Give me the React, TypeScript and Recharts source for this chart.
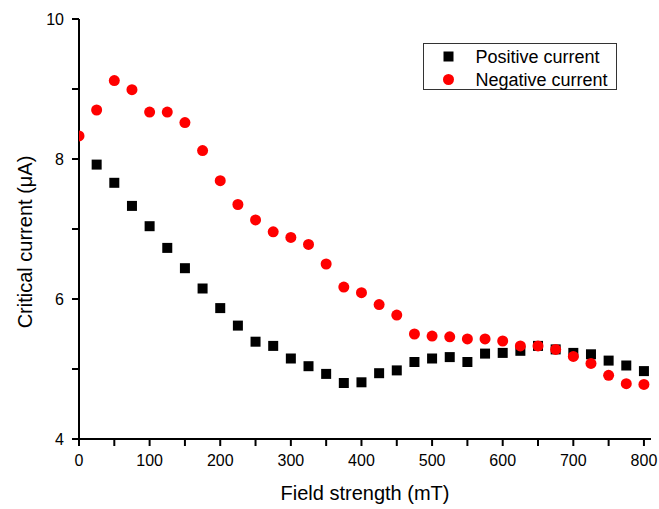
import React from 'react';
import { ScatterChart, Scatter, XAxis, YAxis, Label, Customized } from 'recharts';

const fieldPositive = [25, 50, 75, 100, 125, 150, 175, 200, 225, 250, 275, 300, 325, 350, 375, 400, 425, 450, 475, 500, 525, 550, 575, 600, 625, 650, 675, 700, 725, 750, 775, 800];
const positiveCurrent = [7.92, 7.66, 7.33, 7.04, 6.73, 6.44, 6.15, 5.87, 5.62, 5.39, 5.33, 5.15, 5.04, 4.93, 4.8, 4.81, 4.94, 4.98, 5.1, 5.15, 5.17, 5.1, 5.22, 5.23, 5.26, 5.33, 5.28, 5.23, 5.21, 5.12, 5.05, 4.97];

const fieldNegative = [0, 25, 50, 75, 100, 125, 150, 175, 200, 225, 250, 275, 300, 325, 350, 375, 400, 425, 450, 475, 500, 525, 550, 575, 600, 625, 650, 675, 700, 725, 750, 775, 800];
const negativeCurrent = [8.33, 8.7, 9.12, 8.99, 8.67, 8.67, 8.52, 8.12, 7.69, 7.35, 7.13, 6.96, 6.88, 6.78, 6.5, 6.17, 6.09, 5.92, 5.77, 5.5, 5.47, 5.46, 5.43, 5.43, 5.4, 5.33, 5.33, 5.28, 5.18, 5.08, 4.91, 4.79, 4.78];

const xTicks = [0, 50, 100, 150, 200, 250, 300, 350, 400, 450, 500, 550, 600, 650, 700, 750, 800];
const xTickLabels = [0, 100, 200, 300, 400, 500, 600, 700, 800];
const yTicks = [4, 5, 6, 7, 8, 9, 10];
const yTickLabels = [4, 6, 8, 10];

const seriesNames = ['Positive current', 'Negative current'];

const positiveData = fieldPositive.map((x, i) => ({ x, y: positiveCurrent[i] }));
const negativeData = fieldNegative.map((x, i) => ({ x, y: negativeCurrent[i] }));

const FONT = '"Liberation Sans", Arial, sans-serif';

const SquareShape = (p: any) => (
  <rect x={p.cx - 5} y={p.cy - 5} width={10} height={10} fill="#000000" />
);
const CircleShape = (p: any) => (
  <circle cx={p.cx} cy={p.cy} r={5.5} fill="#ff0000" />
);

const LegendBox = () => (
  <g transform="translate(423.5 43.5)">
    <rect x={0} y={0} width={193} height={46} fill="#fff" stroke="#333" strokeWidth={1} />
    <rect x={20} y={8} width={10} height={10} fill="#000" />
    <circle cx={25} cy={36} r={5.5} fill="#ff0000" />
    <text x={52} y={19.5} fontSize={18} fontFamily={FONT} fill="#000">{seriesNames[0]}</text>
    <text x={52} y={42.5} fontSize={18} fontFamily={FONT} fill="#000">{seriesNames[1]}</text>
  </g>
);

export default function App() {
  return (
    <div style={{ position: 'absolute', left: 0, top: 0, background: '#fff' }}>
      <ScatterChart
        width={659}
        height={509}
        margin={{ top: 19, right: 8, left: 0, bottom: 0 }}
        style={{ fontFamily: FONT }}
      >
        <XAxis
          type="number"
          dataKey="x"
          domain={[0, 810]}
          ticks={xTicks}
          interval={0}
          height={70}
          tickSize={7}
          tickMargin={9}
          tickFormatter={(v: number) => (xTickLabels.includes(v) ? String(v) : '')}
          tick={{ fill: '#000', fontSize: 16, fontFamily: FONT }}
          axisLine={{ stroke: '#000', strokeWidth: 2 }}
          tickLine={{ stroke: '#000', strokeWidth: 2 }}
          allowDataOverflow
        >
          <Label
            content={(props: any) => {
              const vb = props.viewBox || { x: 79, y: 439, width: 572, height: 70 };
              return (
                <text
                  x={vb.x + vb.width / 2}
                  y={vb.y + 61}
                  textAnchor="middle"
                  fontSize={20}
                  fontFamily={FONT}
                  fill="#000"
                >
                  Field strength (mT)
                </text>
              );
            }}
          />
        </XAxis>
        <YAxis
          type="number"
          dataKey="y"
          domain={[4, 10]}
          ticks={yTicks}
          interval={0}
          width={79}
          tickSize={7}
          tickMargin={8}
          tickFormatter={(v: number) => (yTickLabels.includes(v) ? String(v) : '')}
          tick={{ fill: '#000', fontSize: 16, fontFamily: FONT }}
          axisLine={{ stroke: '#000', strokeWidth: 2 }}
          tickLine={{ stroke: '#000', strokeWidth: 2 }}
          allowDataOverflow
        >
          <Label
            content={(props: any) => {
              const vb = props.viewBox || { x: 0, y: 19, width: 79, height: 420 };
              const cx = vb.x + 25;
              const cy = vb.y + vb.height / 2 + 13;
              return (
                <text
                  x={cx}
                  y={cy}
                  transform={`rotate(-90 ${cx} ${cy})`}
                  textAnchor="middle"
                  dominantBaseline="central"
                  fontSize={20}
                  fontFamily={FONT}
                  fill="#000"
                >
                  Critical current (μA)
                </text>
              );
            }}
          />
        </YAxis>
        <Scatter
          name={seriesNames[0]}
          data={positiveData}
          shape={SquareShape}
          isAnimationActive={false}
        />
        <Scatter
          name={seriesNames[1]}
          data={negativeData}
          shape={CircleShape}
          isAnimationActive={false}
        />
        <Customized component={LegendBox} />
      </ScatterChart>
    </div>
  );
}
